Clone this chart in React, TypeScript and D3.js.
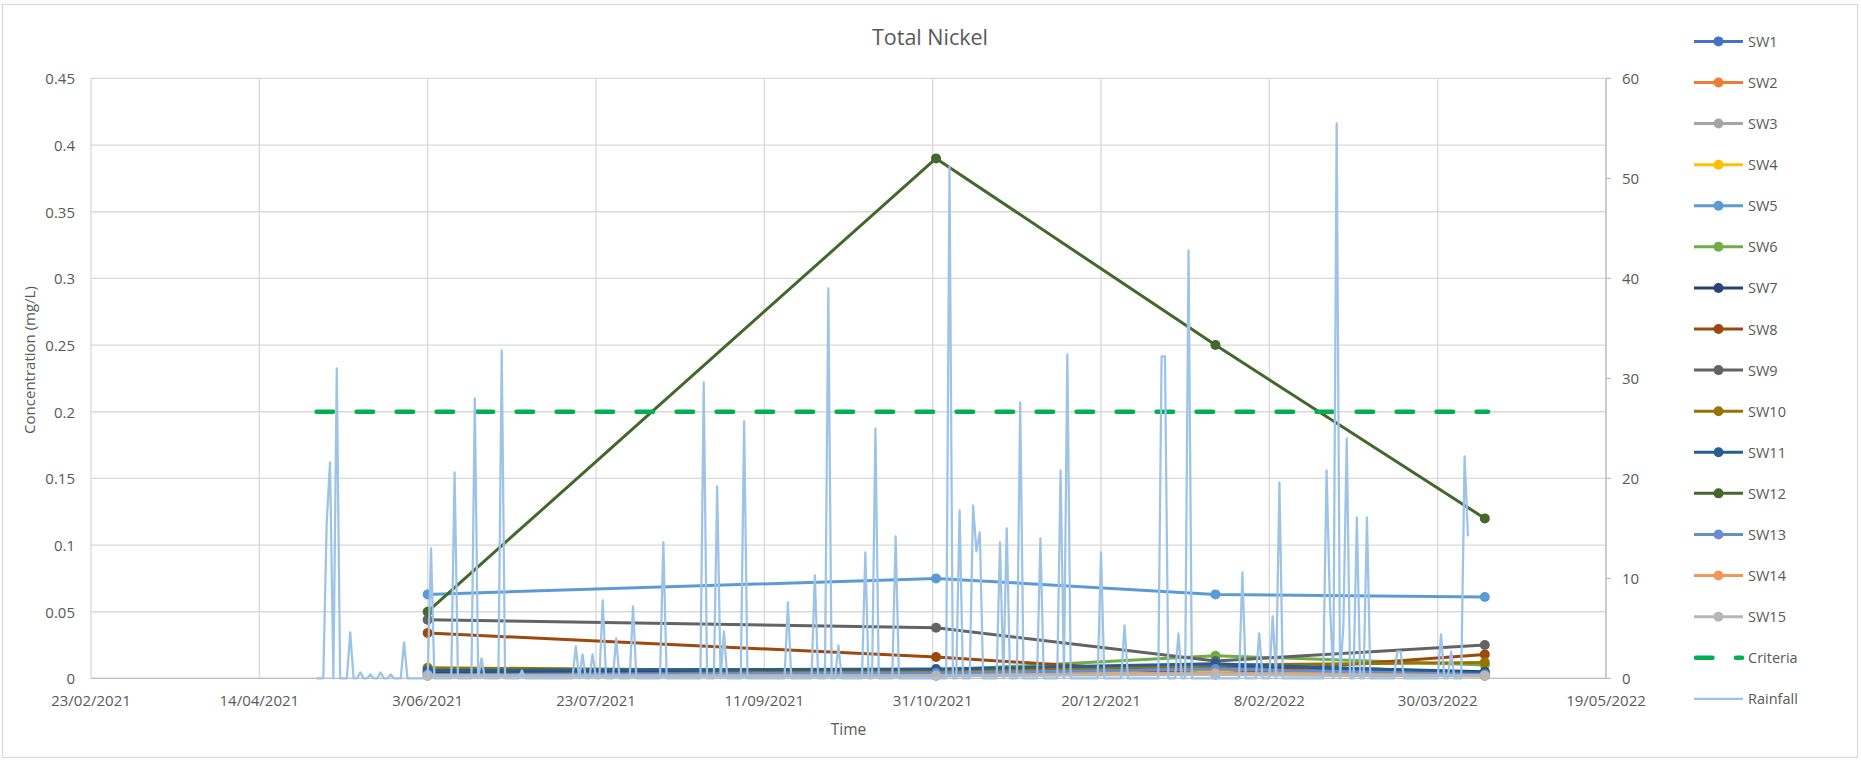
import React from "react";
import * as d3 from "d3";

// ---------- data ----------
const chartTitle = "Total Nickel";
const axisStart = "2021-02-23";
const axisEnd = "2022-05-19";
const xTickLabels = ["23/02/2021", "14/04/2021", "3/06/2021", "23/07/2021", "11/09/2021", "31/10/2021", "20/12/2021", "8/02/2022", "30/03/2022", "19/05/2022"];
const leftTicks = [0, 0.05, 0.1, 0.15, 0.2, 0.25, 0.3, 0.35, 0.4, 0.45];
const leftTickLabels = ["0", "0.05", "0.1", "0.15", "0.2", "0.25", "0.3", "0.35", "0.4", "0.45"];
const rightTicks = [0, 10, 20, 30, 40, 50, 60];

const sampleDates = ["2021-06-03", "2021-11-01", "2022-01-23", "2022-04-13"];
const SW1 = [0.004, 0.005, 0.008, 0.003];
const SW2 = [0.003, 0.003, 0.003, 0.002];
const SW3 = [0.002, 0.002, 0.005, 0.002];
const SW4 = [0.002, 0.003, 0.006, 0.003];
const SW5 = [0.063, 0.075, 0.063, 0.061];
const SW6 = [0.007, 0.006, 0.017, 0.01];
const SW7 = [0.005, 0.006, 0.01, 0.005];
const SW8 = [0.034, 0.016, 0.003, 0.018];
const SW9 = [0.044, 0.038, 0.013, 0.025];
const SW10 = [0.008, 0.005, 0.01, 0.012];
const SW11 = [0.006, 0.007, 0.011, 0.004];
const SW12 = [0.05, 0.39, 0.25, 0.12];
const SW13 = [0.003, 0.004, 0.007, 0.003];
const SW14 = [0.002, 0.002, 0.004, 0.002];
const SW15 = [0.002, 0.002, 0.003, 0.002];
const swNames = ["SW1", "SW2", "SW3", "SW4", "SW5", "SW6", "SW7", "SW8", "SW9", "SW10", "SW11", "SW12", "SW13", "SW14", "SW15"];
const swValues = [SW1, SW2, SW3, SW4, SW5, SW6, SW7, SW8, SW9, SW10, SW11, SW12, SW13, SW14, SW15];
const swColors = ["#4472C4", "#ED7D31", "#A5A5A5", "#FFC000", "#5B9BD5", "#70AD47", "#264478", "#9E480E", "#636363", "#997300", "#255E91", "#43682B", "#698ED0", "#F1975A", "#B7B7B7"];

const criteriaValue = 0.2;
const criteriaDates = ["2021-05-01", "2022-04-14"];

// rainfall (mm, right axis): [days after 23/02/2021, mm]; days not listed had 0 mm
const rainFirstDay = 67;
const rainLastDay = 409;
const rainfallDays = [
  [70, 15.5], [71, 21.6], [73, 31.0], [77, 4.6], [80, 0.6], [83, 0.4], [86, 0.6], [89, 0.4],
  [93, 3.6], [101, 13.0], [108, 20.6], [114, 28.0], [116, 2.0], [122, 32.8], [128, 0.8],
  [144, 3.2], [146, 2.4], [149, 2.4], [152, 7.8], [156, 4.0], [161, 7.2], [170, 13.6],
  [182, 29.6], [186, 19.2], [188, 4.7], [194, 25.7], [207, 7.6], [215, 10.3], [219, 39.0],
  [222, 3.3], [230, 12.6], [233, 25.0], [239, 14.2], [255, 51.2], [258, 16.8], [262, 17.3],
  [263, 12.7], [264, 14.6], [270, 13.6], [272, 15.0], [276, 27.6], [282, 14.0], [288, 20.8],
  [290, 32.4], [300, 12.6], [307, 5.3], [318, 32.2], [319, 32.2], [323, 4.5], [326, 42.8],
  [342, 10.6], [347, 4.5], [351, 6.2], [353, 19.6], [367, 20.8], [368, 7.5], [370, 55.5],
  [372, 5.3], [373, 24.0], [376, 16.1], [379, 16.1], [388, 2.7], [389, 2.7], [401, 4.4],
  [404, 2.7], [408, 22.2], [409, 14.2],
];

// ---------- layout ----------
const W = 1861;
const H = 763;
const PL = 91, PR = 1606, PT = 78.4, PB = 678.4;
const FONT = "'Open Sans', 'Noto Sans', sans-serif";
const TXT = "#595959";
const GRID = "#d9d9d9";

export default function App() {
  const iso = d3.utcParse("%Y-%m-%d");
  const dmy = d3.utcParse("%d/%m/%Y");
  const start = iso(axisStart)!;
  const x = d3.scaleUtc().domain([start, iso(axisEnd)!]).range([PL, PR]);
  const y = d3.scaleLinear().domain([0, 0.45]).range([PB, PT]);
  const y2 = d3.scaleLinear().domain([0, 60]).range([PB, PT]);

  const sDates = sampleDates.map((s) => iso(s)!);
  const line = d3.line<[Date, number]>().x((d) => x(d[0])).y((d) => y(d[1]));

  const rainMap = new Map(rainfallDays.map((r) => [r[0], r[1]]));
  const rain: [Date, number][] = d3.range(rainFirstDay, rainLastDay + 1).map((d) => [d3.utcDay.offset(start, d), rainMap.get(d) ?? 0]);
  const rainLine = d3.line<[Date, number]>().x((d) => x(d[0])).y((d) => y2(d[1]));

  const xTicks = xTickLabels.map((t) => dmy(t)!);

  const legendItems = [...swNames.map((n, i) => ({ name: n, color: swColors[i], kind: "sw" })),
    { name: "Criteria", color: "#00B050", kind: "crit" },
    { name: "Rainfall", color: "#9DC3E6", kind: "rain" }];
  const legY = d3.scaleLinear().domain([0, legendItems.length - 1]).range([41.4, 698.8]);

  return (
    <svg width={W} height={H} style={{ position: "absolute", left: 0, top: 0, background: "#fff" }} fontFamily={FONT}>
      <rect x={2.5} y={4.5} width={1855} height={753} fill="#fff" stroke={GRID} strokeWidth={1.3} />
      <text x={930} y={36} textAnchor="middle" dominantBaseline="central" fontSize={21.5} fill={TXT}>{chartTitle}</text>

      {/* grid */}
      {leftTicks.map((t) => (
        <line key={"h" + t} x1={PL} x2={PR} y1={y(t)} y2={y(t)} stroke={GRID} strokeWidth={1.3} />
      ))}
      {xTicks.map((t, i) => (
        <line key={"v" + i} x1={x(t)} x2={x(t)} y1={PT} y2={PB} stroke={GRID} strokeWidth={1.3} />
      ))}
      {/* right axis */}
      <line x1={PR} x2={PR} y1={PT} y2={PB} stroke="#bfbfbf" strokeWidth={1.3} />
      {rightTicks.map((t) => (
        <line key={"rt" + t} x1={PR} x2={PR + 5} y1={y2(t)} y2={y2(t)} stroke="#bfbfbf" strokeWidth={1.3} />
      ))}
      <line x1={PL} x2={PR} y1={PB} y2={PB} stroke="#bfbfbf" strokeWidth={1.3} />

      {/* tick labels */}
      {leftTicks.map((t, i) => (
        <text key={"lt" + t} x={75} y={y(t)} textAnchor="end" dominantBaseline="central" fontSize={15} fill={TXT}>{leftTickLabels[i]}</text>
      ))}
      {rightTicks.map((t) => (
        <text key={"rl" + t} x={1622} y={y2(t)} textAnchor="start" dominantBaseline="central" fontSize={15} fill={TXT}>{t}</text>
      ))}
      {xTicks.map((t, i) => (
        <text key={"xl" + i} x={x(t)} y={700} textAnchor="middle" dominantBaseline="central" fontSize={15} fill={TXT}>{xTickLabels[i]}</text>
      ))}
      <text x={(PL + PR) / 2} y={729} textAnchor="middle" dominantBaseline="central" fontSize={15.5} fill={TXT}>Time</text>
      <text transform={`translate(29,360) rotate(-90)`} textAnchor="middle" dominantBaseline="central" fontSize={15} fill={TXT}>Concentration (mg/L)</text>

      {/* SW series */}
      {swValues.map((vals, i) => {
        const pts: [Date, number][] = vals.map((v, j) => [sDates[j], v]);
        return (
          <g key={swNames[i]}>
            <path d={line(pts) ?? ""} fill="none" stroke={swColors[i]} strokeWidth={3} strokeLinejoin="round" />
            {pts.map((p, j) => (
              <circle key={j} cx={x(p[0])} cy={y(p[1])} r={5} fill={swColors[i]} />
            ))}
          </g>
        );
      })}

      {/* criteria */}
      <line x1={x(iso(criteriaDates[0])!)} x2={x(iso(criteriaDates[1])!)} y1={y(criteriaValue)} y2={y(criteriaValue)}
        stroke="#00B050" strokeWidth={4.5} strokeDasharray="16.5 23.5" strokeLinecap="round" />

      {/* rainfall */}
      <path d={rainLine(rain) ?? ""} fill="none" stroke="#9DC3E6" strokeWidth={2.25} strokeLinejoin="round" />

      {/* legend */}
      {legendItems.map((it, i) => {
        const ly = legY(i);
        return (
          <g key={it.name}>
            {it.kind === "crit" ? (
              <line x1={1696} x2={1742} y1={ly} y2={ly} stroke={it.color} strokeWidth={4.5} strokeDasharray="16.5 23.5" strokeLinecap="round" />
            ) : (
              <line x1={1694} x2={1743} y1={ly} y2={ly} stroke={it.color} strokeWidth={it.kind === "rain" ? 2.25 : 3} />
            )}
            {it.kind === "sw" && <circle cx={1718.5} cy={ly} r={5} fill={it.color} />}
            <text x={1748} y={ly} dominantBaseline="central" fontSize={14.5} fill={TXT}>{it.name}</text>
          </g>
        );
      })}
    </svg>
  );
}
